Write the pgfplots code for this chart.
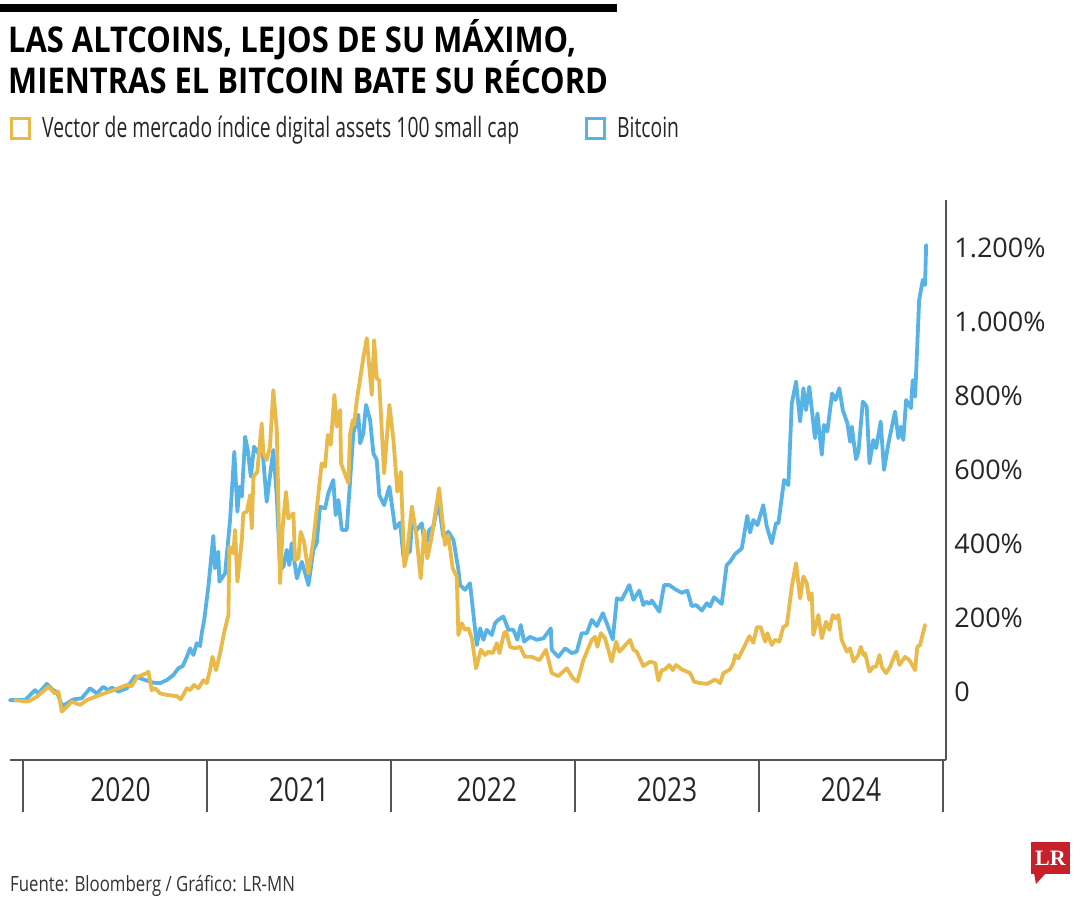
\documentclass[border=0pt]{standalone}
\usepackage{fontspec}
\setmainfont{Open Sans}
\newfontfamily\cond{Open Sans}[FakeStretch=0.87]
\newfontfamily\condn{Open Sans}[FakeStretch=0.69]
\newfontfamily\condm{Open Sans}[FakeStretch=0.8]
\newfontfamily\serifb{Liberation Serif}
\usepackage{pgfplots}
\pgfplotsset{compat=1.18}
\definecolor{cyel}{HTML}{E9B949}
\definecolor{cblu}{HTML}{57B3E6}
\definecolor{axgray}{HTML}{555555}
\definecolor{lrred}{HTML}{C8202A}
\begin{document}
\begin{tikzpicture}
\begin{scope}[x=1bp,y=1bp]
\useasboundingbox (0,0) rectangle (1080,900);
\fill[black] (0,888) rectangle (617,896);
\node[anchor=base west, inner sep=0, align=left, font=\cond\bfseries\fontsize{35.5bp}{31bp}\selectfont] at (8,806) {LAS ALTCOINS, LEJOS DE SU MÁXIMO,\\MIENTRAS EL BITCOIN BATE SU RÉCORD};
\draw[cyel, line width=3bp] (11.5,761.5) rectangle (29.5,781.5);
\node[anchor=base west, inner sep=0, font=\condn\fontsize{28bp}{32bp}\selectfont, text=black!85] at (42,762) {Vector de mercado índice digital assets 100 small cap};
\draw[cblu, line width=3bp] (586.5,761.5) rectangle (604.5,781.5);
\node[anchor=base west, inner sep=0, font=\condn\fontsize{28bp}{32bp}\selectfont, text=black!85] at (617,762) {Bitcoin};
\node[anchor=base west, inner sep=0, font=\condm\fontsize{21bp}{24bp}\selectfont, text=black!80] at (10,8) {Fuente: Bloomberg / Gráfico: LR-MN};
\fill[lrred] (1031,26) -- (1070,26) -- (1070,58) -- (1031,58) -- cycle;
\fill[lrred] (1034,27) -- (1036,16) -- (1046,27) -- cycle;
\node[text=white, font=\serifb\bfseries\fontsize{22bp}{22bp}\selectfont, inner sep=0] at (1050.5,42) {LR};
\end{scope}
\begin{axis}[
  at={(10bp,140bp)}, anchor=south west,
  width=936bp, height=560bp, scale only axis,
  xmin=2019.929, xmax=2025.016, ymin=-183.8, ymax=1329.7,
  axis x line*=bottom, axis y line*=right,
  axis line style={axgray, line width=1.2bp},
  xtick={2020,2021,2022,2023,2024,2025},
  xticklabels={},
  tick align=outside,
  major tick length=52bp,
  xtick style={axgray, line width=1.2bp},
  extra x ticks={2020.53,2021.5,2022.52,2023.5,2024.5},
  extra x tick labels={2020,2021,2022,2023,2024},
  extra x tick style={major tick length=0pt, xticklabel style={yshift=-14bp}},
  xticklabel style={font=\condm\fontsize{33bp}{36bp}\selectfont, text=black!85},
  ytick={0,200,400,600,800,1000,1200},
  yticklabels={0,200\%,400\%,600\%,800\%,1.000\%,1.200\%},
  ytick style={draw=none},
  yticklabel style={font=\fontsize{27bp}{30bp}\selectfont, text=black!85, anchor=west, xshift=-47bp},
  /pgf/number format/assume math mode=true,
  clip=false,
  every axis plot/.append style={line width=3.8bp, line join=round, line cap=round},
]
\addplot[cblu] table {
2019.929 -22
2020.011 -22
2020.065 5
2020.083 -4
2020.129 22
2020.165 4
2020.183 1
2020.212 -38
2020.238 -31
2020.273 -20
2020.319 -17
2020.364 10
2020.401 -4
2020.436 14
2020.464 4
2020.482 12
2020.518 1
2020.564 10
2020.609 43
2020.636 37
2020.672 31
2020.708 25
2020.745 24
2020.781 32
2020.817 46
2020.844 64
2020.868 70
2020.890 95
2020.908 118
2020.926 100
2020.944 132
2020.962 124
2020.971 159
2020.984 193
2021.007 285
2021.034 422
2021.043 334
2021.061 379
2021.067 298
2021.098 321
2021.125 465
2021.148 649
2021.165 487
2021.176 555
2021.189 528
2021.207 690
2021.221 654
2021.238 582
2021.255 663
2021.279 645
2021.297 681
2021.324 514
2021.360 654
2021.379 528
2021.397 330
2021.415 339
2021.433 384
2021.447 343
2021.460 402
2021.488 307
2021.515 352
2021.551 289
2021.578 384
2021.596 402
2021.614 501
2021.641 496
2021.659 537
2021.686 573
2021.699 478
2021.714 519
2021.732 438
2021.759 438
2021.795 699
2021.822 749
2021.832 672
2021.849 699
2021.864 776
2021.886 735
2021.904 645
2021.922 627
2021.936 532
2021.962 505
2021.991 555
2022.022 442
2022.049 458
2022.067 366
2022.103 380
2022.113 456
2022.140 438
2022.167 456
2022.185 388
2022.208 438
2022.230 447
2022.257 514
2022.284 420
2022.311 433
2022.339 411
2022.366 330
2022.375 289
2022.402 276
2022.429 294
2022.466 127
2022.484 172
2022.502 141
2022.520 168
2022.547 154
2022.565 186
2022.583 195
2022.610 204
2022.638 168
2022.665 168
2022.686 141
2022.705 181
2022.723 136
2022.755 149
2022.792 141
2022.828 145
2022.868 172
2022.873 114
2022.909 95
2022.946 118
2022.982 105
2023.009 109
2023.036 159
2023.064 159
2023.091 195
2023.118 178
2023.151 213
2023.172 186
2023.205 142
2023.227 253
2023.254 249
2023.272 267
2023.295 289
2023.317 249
2023.349 274
2023.371 235
2023.386 244
2023.404 238
2023.417 247
2023.458 217
2023.484 289
2023.512 289
2023.543 278
2023.580 268
2023.610 274
2023.634 232
2023.658 235
2023.689 220
2023.716 240
2023.734 231
2023.755 256
2023.797 238
2023.824 343
2023.842 352
2023.870 373
2023.906 388
2023.936 476
2023.951 431
2023.969 465
2023.991 451
2024.023 505
2024.042 447
2024.069 402
2024.092 456
2024.105 456
2024.136 573
2024.159 559
2024.178 780
2024.201 839
2024.223 731
2024.241 821
2024.255 762
2024.273 825
2024.304 686
2024.317 753
2024.341 641
2024.353 722
2024.371 704
2024.397 807
2024.415 789
2024.436 821
2024.455 762
2024.480 726
2024.495 676
2024.504 717
2024.527 629
2024.540 649
2024.564 785
2024.585 771
2024.600 618
2024.621 681
2024.636 659
2024.661 731
2024.679 600
2024.703 672
2024.739 758
2024.757 686
2024.770 717
2024.784 681
2024.799 789
2024.825 767
2024.835 843
2024.848 798
2024.870 1059
2024.890 1114
2024.902 1100
2024.908 1208
};
\addplot[cyel] table {
2019.957 -22
2020.029 -26
2020.074 -13
2020.138 14
2020.174 -4
2020.192 1
2020.210 -53
2020.238 -40
2020.265 -26
2020.310 -35
2020.346 -22
2020.418 -8
2020.491 5
2020.564 19
2020.591 16
2020.618 40
2020.672 51
2020.681 55
2020.699 5
2020.717 10
2020.745 -4
2020.781 -8
2020.835 -11
2020.857 -20
2020.890 10
2020.908 5
2020.929 19
2020.953 10
2020.980 32
2020.998 24
2021.016 59
2021.029 95
2021.049 59
2021.071 105
2021.092 159
2021.116 208
2021.121 393
2021.143 375
2021.152 438
2021.165 298
2021.189 411
2021.197 483
2021.216 487
2021.234 532
2021.243 442
2021.252 582
2021.273 595
2021.297 726
2021.306 645
2021.324 627
2021.342 663
2021.360 816
2021.379 708
2021.397 294
2021.411 447
2021.429 541
2021.442 469
2021.469 483
2021.478 357
2021.496 361
2021.509 433
2021.527 406
2021.551 321
2021.578 411
2021.623 618
2021.641 609
2021.656 695
2021.672 668
2021.692 803
2021.705 717
2021.723 762
2021.728 618
2021.768 564
2021.777 695
2021.792 735
2021.799 722
2021.814 789
2021.849 902
2021.868 956
2021.895 803
2021.908 951
2021.922 848
2021.935 843
2021.962 591
2021.991 776
2022.013 681
2022.034 541
2022.053 595
2022.072 339
2022.085 366
2022.113 501
2022.136 429
2022.161 307
2022.181 438
2022.197 361
2022.221 420
2022.261 551
2022.293 397
2022.311 424
2022.335 334
2022.357 312
2022.366 154
2022.384 186
2022.402 168
2022.420 172
2022.439 145
2022.462 64
2022.488 114
2022.511 100
2022.529 109
2022.553 105
2022.575 132
2022.589 105
2022.614 159
2022.625 163
2022.647 122
2022.674 118
2022.701 122
2022.728 95
2022.765 95
2022.806 86
2022.842 114
2022.873 51
2022.909 43
2022.955 64
2022.988 37
2023.013 28
2023.045 86
2023.091 141
2023.109 149
2023.121 122
2023.140 159
2023.163 145
2023.199 82
2023.223 136
2023.241 109
2023.299 141
2023.317 114
2023.335 109
2023.371 70
2023.408 82
2023.435 78
2023.453 31
2023.471 59
2023.489 61
2023.512 73
2023.531 59
2023.549 73
2023.580 61
2023.625 51
2023.647 28
2023.679 24
2023.719 22
2023.761 34
2023.788 24
2023.806 51
2023.842 61
2023.860 78
2023.870 100
2023.888 91
2023.915 118
2023.947 151
2023.969 133
2023.988 175
2024.009 175
2024.033 136
2024.045 159
2024.069 127
2024.087 141
2024.110 136
2024.132 176
2024.151 181
2024.178 285
2024.201 348
2024.223 253
2024.241 312
2024.259 294
2024.273 249
2024.286 267
2024.295 154
2024.322 208
2024.341 145
2024.364 190
2024.382 168
2024.401 208
2024.418 199
2024.431 208
2024.449 141
2024.477 109
2024.495 118
2024.513 82
2024.540 100
2024.553 122
2024.567 100
2024.576 105
2024.600 55
2024.621 68
2024.636 68
2024.654 100
2024.667 68
2024.690 51
2024.712 68
2024.745 109
2024.763 73
2024.793 95
2024.817 86
2024.848 59
2024.860 122
2024.875 127
2024.884 145
2024.902 181
};
\end{axis}
\end{tikzpicture}
\end{document}
